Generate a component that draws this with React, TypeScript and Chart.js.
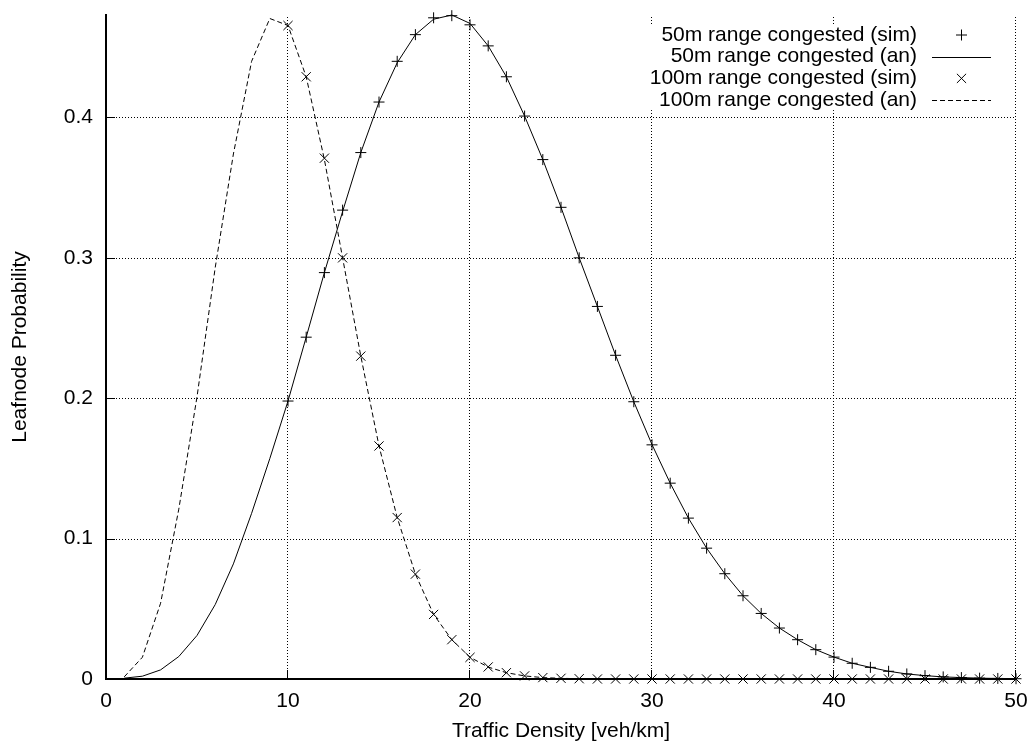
import React, { useEffect, useRef } from 'react';
import { Chart, registerables } from 'chart.js';

Chart.register(...registerables);

const FONT = '"Liberation Sans", Arial, Helvetica, sans-serif';
const FONT_SIZE = 21;

// Traffic density (veh/km) for the analytic curves and the simulation runs
const densityAn = [
  1, 2, 3, 4, 5, 6, 7, 8, 9, 10, 11, 12, 13, 14, 15, 16, 17, 18, 19, 20, 21, 22, 23, 24, 25,
  26, 27, 28, 29, 30, 31, 32, 33, 34, 35, 36, 37, 38, 39, 40, 41, 42, 43, 44, 45, 46, 47, 48, 49, 50,
];
const densitySim = [
  10, 11, 12, 13, 14, 15, 16, 17, 18, 19, 20, 21, 22, 23, 24, 25, 26, 27, 28, 29,
  30, 31, 32, 33, 34, 35, 36, 37, 38, 39, 40, 41, 42, 43, 44, 45, 46, 47, 48, 49, 50,
];

// Leafnode probability, 50 m range
const range50An = [
  0.0006, 0.002, 0.0065, 0.016, 0.031, 0.053, 0.082, 0.118, 0.157, 0.198,
  0.2435, 0.2895, 0.333, 0.375, 0.411, 0.439, 0.459, 0.47, 0.473, 0.467,
  0.451, 0.429, 0.401, 0.37, 0.336, 0.3, 0.2654, 0.2306, 0.1975, 0.167,
  0.1395, 0.1146, 0.0932, 0.075, 0.0593, 0.0467, 0.0363, 0.028, 0.0209, 0.0156,
  0.0112, 0.0083, 0.0055, 0.0036, 0.0024, 0.0015, 0.001, 0.0006, 0.0004, 0.0002,
];
const range50Sim = [
  0.198, 0.2435, 0.2895, 0.334, 0.375, 0.411, 0.44, 0.459, 0.471, 0.4725,
  0.466, 0.451, 0.429, 0.401, 0.37, 0.336, 0.3, 0.2654, 0.2306, 0.1975,
  0.1668, 0.1395, 0.1146, 0.0932, 0.075, 0.0593, 0.0467, 0.0363, 0.028, 0.0209,
  0.0156, 0.0112, 0.0083, 0.0055, 0.0036, 0.0024, 0.0015, 0.001, 0.0006, 0.0004, 0.0002,
];

// Leafnode probability, 100 m range
const range100An = [
  0.0015, 0.0155, 0.054, 0.121, 0.201, 0.293, 0.374, 0.44, 0.4705, 0.4655,
  0.429, 0.37, 0.3, 0.23, 0.166, 0.115, 0.0747, 0.046, 0.028, 0.0155,
  0.0085, 0.0045, 0.0022, 0.001, 0.0005, 0.0002, 0.0001, 0, 0, 0,
  0, 0, 0, 0, 0, 0, 0, 0, 0, 0,
  0, 0, 0, 0, 0, 0, 0, 0, 0, 0,
];
const range100Sim = [
  0.4655, 0.429, 0.371, 0.3, 0.23, 0.166, 0.115, 0.0747, 0.046, 0.028,
  0.0154, 0.0086, 0.0045, 0.0022, 0.001, 0.0005, 0.0002, 0, 0, 0,
  0, 0, 0, 0, 0, 0, 0, 0, 0, 0,
  0, 0, 0, 0, 0, 0, 0, 0, 0, 0, 0,
];

const seriesLabels = [
  '50m range congested (sim)',
  '50m range congested (an)',
  '100m range congested (sim)',
  '100m range congested (an)',
];

const X_MIN = 0;
const X_MAX = 50;
const X_STEP = 10;
const Y_MIN = 0;
const Y_MAX = 0.473;
const Y_STEP = 0.1;

const toPoints = (xs: number[], ys: number[]) => xs.map((x, i) => ({ x, y: ys[i] }));

const formatTick = (v: number | string) => Number(v).toFixed(1).replace(/\.0$/, '');

function strokeMarker(ctx: CanvasRenderingContext2D, style: string, cx: number, cy: number, r: number) {
  ctx.beginPath();
  if (style === 'crossRot') {
    const d = r * Math.SQRT1_2;
    ctx.moveTo(cx - d, cy - d);
    ctx.lineTo(cx + d, cy + d);
    ctx.moveTo(cx - d, cy + d);
    ctx.lineTo(cx + d, cy - d);
  } else {
    ctx.moveTo(cx - r, cy);
    ctx.lineTo(cx + r, cy);
    ctx.moveTo(cx, cy - r);
    ctx.lineTo(cx, cy + r);
  }
  ctx.stroke();
}

// Dotted grid, inward tick marks and the key box in the upper right corner
const framePlugin = {
  id: 'gnuplotFrame',
  beforeDatasetsDraw(chart: any) {
    const { ctx, chartArea, scales } = chart;
    const { left, right, top, bottom } = chartArea;
    const xs = scales.x;
    const ys = scales.y;
    const tickLen = 9;

    ctx.save();
    ctx.strokeStyle = '#000';
    ctx.lineWidth = 1;

    // dotted grid
    ctx.setLineDash([1, 2]);
    ctx.beginPath();
    xs.ticks.forEach((t: any) => {
      if (t.value === X_MIN) return;
      const px = Math.round(xs.getPixelForValue(t.value)) - 0.5;
      ctx.moveTo(px, bottom - 1);
      ctx.lineTo(px, top);
    });
    ys.ticks.forEach((t: any) => {
      if (t.value === Y_MIN) return;
      const py = Math.round(ys.getPixelForValue(t.value)) + 0.5;
      ctx.moveTo(left + 1, py);
      ctx.lineTo(right, py);
    });
    ctx.stroke();

    // inward ticks
    ctx.setLineDash([]);
    ctx.beginPath();
    xs.ticks.forEach((t: any) => {
      const px = Math.round(xs.getPixelForValue(t.value)) - 0.5;
      ctx.moveTo(px, bottom);
      ctx.lineTo(px, bottom - tickLen);
    });
    ys.ticks.forEach((t: any) => {
      const py = Math.round(ys.getPixelForValue(t.value)) + 0.5;
      ctx.moveTo(left, py);
      ctx.lineTo(left + tickLen, py);
    });
    ctx.stroke();

    // key
    const keyLeft = 646;
    const keyTop = top + 11;
    const textRight = 917;
    const sampleL = 932;
    const sampleR = 991;
    const rowStep = 21.7;
    const firstRow = top + 20;
    ctx.fillStyle = '#fff';
    ctx.fillRect(keyLeft, keyTop, 1004 - keyLeft, firstRow + rowStep * 3 + 10 - keyTop);

    ctx.fillStyle = '#000';
    ctx.font = `${FONT_SIZE}px ${FONT}`;
    ctx.textAlign = 'right';
    ctx.textBaseline = 'middle';
    chart.data.datasets.forEach((ds: any, i: number) => {
      const cy = firstRow + rowStep * i;
      ctx.fillText(ds.label, textRight, cy);
      ctx.lineWidth = 1;
      ctx.strokeStyle = '#000';
      if (ds.showLine === false) {
        strokeMarker(ctx, ds.pointStyle, (sampleL + sampleR) / 2, cy, ds.pointRadius);
      } else {
        ctx.setLineDash(ds.borderDash || []);
        ctx.beginPath();
        ctx.moveTo(sampleL, Math.round(cy) + 0.5);
        ctx.lineTo(sampleR, Math.round(cy) + 0.5);
        ctx.stroke();
        ctx.setLineDash([]);
      }
    });

    ctx.restore();
  },
};

export default function App() {
  const canvasRef = useRef<HTMLCanvasElement | null>(null);

  useEffect(() => {
    const canvas = canvasRef.current;
    if (!canvas) return;

    const tickFont = { family: FONT, size: FONT_SIZE, lineHeight: 1 };

    const chart = new Chart(canvas, {
      type: 'scatter',
      data: {
        datasets: [
          {
            label: seriesLabels[0],
            data: toPoints(densitySim, range50Sim),
            showLine: false,
            pointStyle: 'cross',
            pointRadius: 5.5,
            pointBorderWidth: 1,
            borderColor: '#000',
            backgroundColor: '#000',
            clip: false,
          },
          {
            label: seriesLabels[1],
            data: toPoints(densityAn, range50An),
            showLine: true,
            pointRadius: 0,
            borderWidth: 1,
            borderColor: '#000',
            tension: 0,
            clip: false,
          },
          {
            label: seriesLabels[2],
            data: toPoints(densitySim, range100Sim),
            showLine: false,
            pointStyle: 'crossRot',
            pointRadius: 6.5,
            pointBorderWidth: 1,
            borderColor: '#000',
            backgroundColor: '#000',
            clip: false,
          },
          {
            label: seriesLabels[3],
            data: toPoints(densityAn, range100An),
            showLine: true,
            pointRadius: 0,
            borderWidth: 1,
            borderColor: '#000',
            borderDash: [5, 3],
            tension: 0,
            clip: false,
          },
        ],
      } as any,
      options: {
        animation: false,
        responsive: false,
        events: [],
        layout: { padding: { left: 0, right: 17, top: 15, bottom: 0 } },
        plugins: {
          legend: { display: false },
          tooltip: { enabled: false },
        },
        scales: {
          x: {
            type: 'linear',
            min: X_MIN,
            max: X_MAX,
            afterFit: (s: any) => {
              s.height = 63;
              s.paddingLeft = 0;
              s.paddingRight = 0;
            },
            grid: { display: false, drawTicks: false },
            border: { display: true, color: '#000', width: 2 },
            ticks: {
              stepSize: X_STEP,
              includeBounds: false,
              padding: 12,
              maxRotation: 0,
              color: '#000',
              font: tickFont,
              callback: formatTick,
            },
            title: {
              display: true,
              text: 'Traffic Density [veh/km]',
              color: '#000',
              font: tickFont,
              padding: { top: 0, bottom: 0.5 },
            },
          },
          y: {
            type: 'linear',
            min: Y_MIN,
            max: Y_MAX,
            afterFit: (s: any) => {
              s.width = 106;
              s.paddingTop = 0;
              s.paddingBottom = 0;
            },
            grid: { display: false, drawTicks: false },
            border: { display: true, color: '#000', width: 2 },
            ticks: {
              stepSize: Y_STEP,
              includeBounds: false,
              padding: 13,
              color: '#000',
              font: tickFont,
              callback: formatTick,
            },
            title: {
              display: true,
              text: 'Leafnode Probability',
              color: '#000',
              font: tickFont,
              padding: { top: 9.5, bottom: 0 },
            },
          },
        },
      } as any,
      plugins: [framePlugin],
    });

    return () => chart.destroy();
  }, []);

  return (
    <div style={{ position: 'fixed', left: 0, top: 0, width: 1033, height: 742, background: '#fff' }}>
      <canvas ref={canvasRef} width={1033} height={742} />
    </div>
  );
}
